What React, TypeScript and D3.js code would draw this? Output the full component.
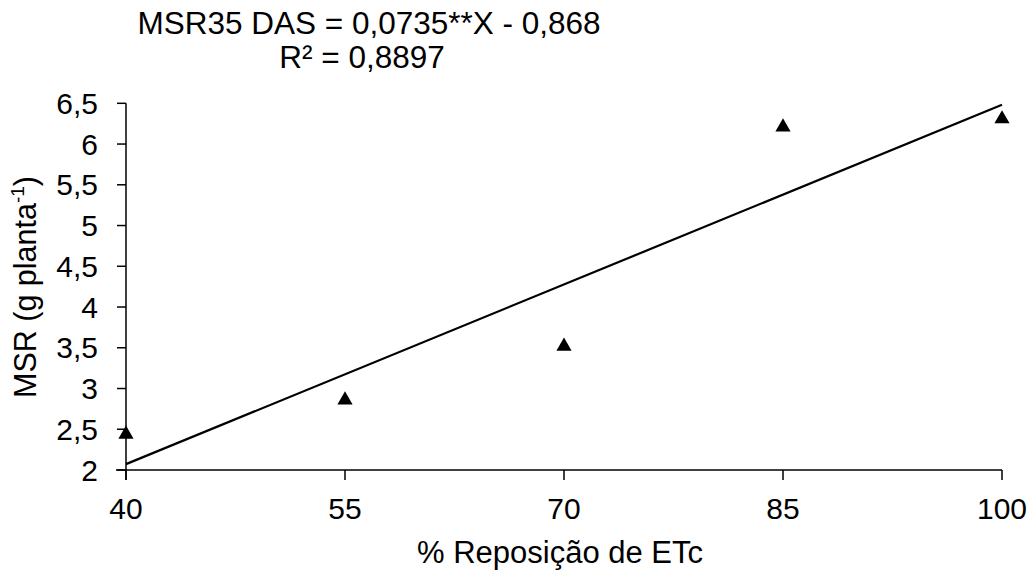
import { line, scaleLinear, symbol, symbolTriangle } from "d3";

const xValues = [40, 55, 70, 85, 100];
const msrValues = [2.45, 2.87, 3.53, 6.22, 6.32];
const yTicks = [2, 2.5, 3, 3.5, 4, 4.5, 5, 5.5, 6, 6.5];
const slope = 0.0735;
const intercept = -0.868;
const equationLabel = "MSR35 DAS = 0,0735**X - 0,868";
const r2Label = "R² = 0,8897";
const xTitle = "% Reposição de ETc";

const fmt = (v: number) => String(v).replace(".", ",");

export default function App() {
  const width = 1032;
  const height = 570;
  const x = scaleLinear().domain([40, 100]).range([126, 1002]);
  const y = scaleLinear().domain([2, 6.5]).range([470, 103.3]);
  const font = "'Liberation Sans', Arial, sans-serif";
  const fs = 30;

  const fit = [40, 100].map((v) => ({ x: v, y: slope * v + intercept }));
  const fitPath =
    line<{ x: number; y: number }>()
      .x((d) => x(d.x))
      .y((d) => y(d.y))(fit) ?? "";
  const tri = symbol().type(symbolTriangle).size(100)() ?? "";

  return (
    <svg
      width={width}
      height={height}
      style={{ position: "absolute", left: 0, top: 0, background: "#fff" }}
      fontFamily={font}
    >
      <text x={369} y={34} fontSize={31.5} textAnchor="middle">
        {equationLabel}
      </text>
      <text x={362} y={68} fontSize={31.5} textAnchor="middle">
        {r2Label}
      </text>

      {/* axes */}
      <line x1={x(40)} x2={x(40)} y1={y(6.5)} y2={y(2) + 10} stroke="#000" strokeWidth={1.5} />
      <line x1={x(40) - 10} x2={x(100)} y1={y(2)} y2={y(2)} stroke="#000" strokeWidth={1.5} />
      {yTicks.map((t) => (
        <g key={t}>
          <line x1={x(40) - 9} x2={x(40)} y1={y(t)} y2={y(t)} stroke="#000" strokeWidth={1.5} />
          <text x={98} y={y(t) + 10.5} fontSize={fs} textAnchor="end">
            {fmt(t)}
          </text>
        </g>
      ))}
      {xValues.map((t) => (
        <g key={t}>
          <line x1={x(t)} x2={x(t)} y1={y(2)} y2={y(2) + 10} stroke="#000" strokeWidth={1.5} />
          <text x={x(t)} y={519} fontSize={fs} textAnchor="middle">
            {t}
          </text>
        </g>
      ))}

      <text x={560} y={563} fontSize={31} textAnchor="middle">
        {xTitle}
      </text>
      <text transform="translate(36,287) rotate(-90)" fontSize={30.5} textAnchor="middle">
        MSR (g planta
        <tspan fontSize={19} dy={-12}>
          -1
        </tspan>
        <tspan dy={12}>)</tspan>
      </text>

      <path d={fitPath} fill="none" stroke="#000" strokeWidth={2.2} />
      {xValues.map((v, i) => (
        <path key={v} d={tri} transform={`translate(${x(v)},${y(msrValues[i]) + 1})`} fill="#000" />
      ))}
    </svg>
  );
}
